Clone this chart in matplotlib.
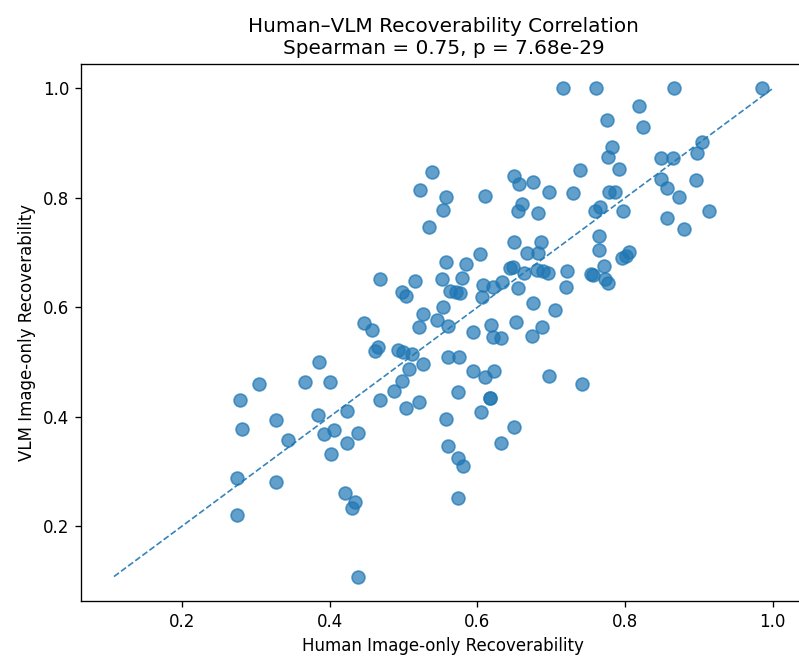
import numpy as np
import matplotlib
matplotlib.use("Agg")
import matplotlib.pyplot as plt

# human vs VLM image-only recoverability
human = [
    0.275, 0.274, 0.279, 0.282, 0.305, 0.327, 0.328, 0.344, 0.367, 0.385,
    0.384, 0.392, 0.400, 0.402, 0.406, 0.421, 0.423, 0.424, 0.430, 0.434,
    0.438, 0.438, 0.446, 0.458, 0.461, 0.465, 0.468, 0.487, 0.468,
    0.538, 0.523, 0.557, 0.553, 0.534, 0.610, 0.649, 0.657, 0.676, 0.697,
    0.729, 0.660, 0.655, 0.682, 0.739, 0.649, 0.686, 0.667, 0.682, 0.604,
    0.557, 0.584, 0.644, 0.648, 0.663, 0.681, 0.689, 0.695, 0.722, 0.515,
    0.552, 0.579, 0.563, 0.571, 0.576, 0.607, 0.621, 0.634, 0.655, 0.720,
    0.498, 0.504, 0.606, 0.553, 0.675, 0.705, 0.526, 0.521, 0.546, 0.560,
    0.594, 0.618, 0.621, 0.632, 0.652, 0.687, 0.674, 0.492, 0.500, 0.511,
    0.560, 0.575, 0.526, 0.507, 0.594, 0.610, 0.622, 0.697, 0.742, 0.498,
    0.574, 0.617, 0.617, 0.504, 0.521, 0.605, 0.557, 0.649, 0.560, 0.632,
    0.574, 0.581, 0.574,
    0.716, 0.761, 0.866, 0.986, 0.819, 0.775, 0.824, 0.782, 0.777, 0.904,
    0.897, 0.849, 0.865, 0.792, 0.849, 0.857, 0.896, 0.873, 0.778, 0.787,
    0.759, 0.766, 0.797, 0.857, 0.914, 0.880, 0.765, 0.765, 0.796, 0.801,
    0.805, 0.771, 0.757, 0.754, 0.773, 0.777,
]
vlm = [
    0.221, 0.289, 0.431, 0.378, 0.459, 0.395, 0.281, 0.358, 0.464, 0.500,
    0.403, 0.368, 0.464, 0.332, 0.376, 0.261, 0.411, 0.352, 0.233, 0.244,
    0.370, 0.108, 0.571, 0.559, 0.520, 0.527, 0.431, 0.448, 0.652,
    0.848, 0.815, 0.802, 0.778, 0.747, 0.804, 0.840, 0.826, 0.829, 0.811,
    0.809, 0.789, 0.776, 0.773, 0.851, 0.720, 0.720, 0.700, 0.700, 0.698,
    0.683, 0.679, 0.672, 0.674, 0.663, 0.669, 0.667, 0.663, 0.667, 0.648,
    0.652, 0.654, 0.630, 0.628, 0.626, 0.641, 0.637, 0.646, 0.636, 0.637,
    0.628, 0.621, 0.619, 0.601, 0.608, 0.595, 0.588, 0.564, 0.577, 0.566,
    0.555, 0.568, 0.546, 0.544, 0.573, 0.564, 0.547, 0.522, 0.519, 0.515,
    0.509, 0.509, 0.496, 0.487, 0.484, 0.473, 0.484, 0.475, 0.460, 0.465,
    0.445, 0.434, 0.435, 0.416, 0.427, 0.409, 0.396, 0.381, 0.346, 0.352,
    0.325, 0.310, 0.251,
    1.000, 1.000, 1.000, 1.000, 0.968, 0.943, 0.930, 0.893, 0.875, 0.902,
    0.882, 0.873, 0.873, 0.853, 0.835, 0.818, 0.833, 0.802, 0.811, 0.811,
    0.776, 0.783, 0.776, 0.764, 0.776, 0.744, 0.731, 0.705, 0.690, 0.694,
    0.701, 0.676, 0.659, 0.660, 0.652, 0.645,
]
rho_text = "Spearman = 0.75, p = 7.68e-29"

x = np.array(human)
y = np.array(vlm)

fig = plt.figure(figsize=(799 / 120, 667 / 120), dpi=120)
ax = fig.add_axes([0.1014, 0.099, 0.907, 0.805])

ax.scatter(x, y, s=60, alpha=0.7, color="C0")

lo = min(x.min(), y.min())
hi = max(x.max(), y.max())
ax.plot([lo, hi], [lo, hi], "--", color="C0", linewidth=1, alpha=0.9)

ax.set_xlabel("Human Image-only Recoverability")
ax.set_ylabel("VLM Image-only Recoverability")
ax.set_title("Human\u2013VLM Recoverability Correlation\n" + rho_text)
ax.set_xticks([0.2, 0.4, 0.6, 0.8, 1.0])
ax.set_yticks([0.2, 0.4, 0.6, 0.8, 1.0])
# the reference is cropped just before the right spine
ax.spines["right"].set_visible(False)

fig.savefig("out.png", dpi=120)
